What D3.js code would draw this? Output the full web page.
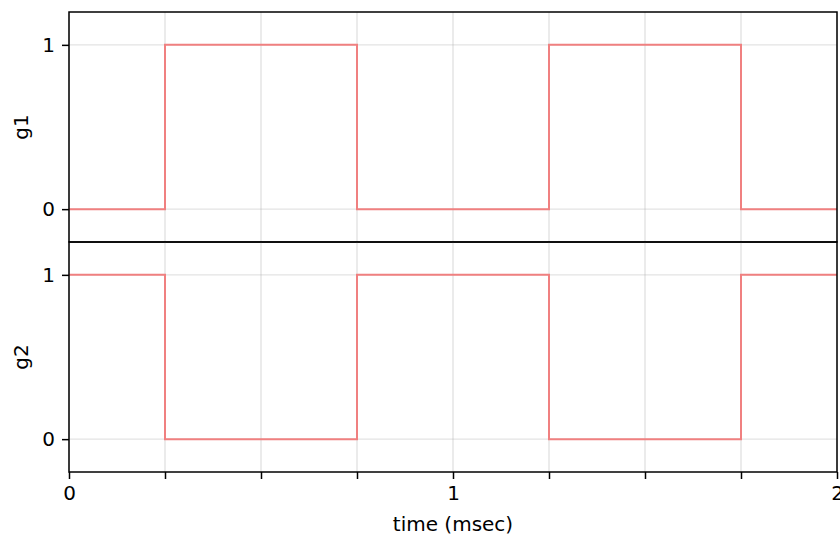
<!DOCTYPE html>
<html lang="en">
    <head>
        <meta charset="UTF-8" />
        <title>g1 / g2</title>
        <style>
            body { margin: 0; background: #fff; }
            text { font-family: 'DejaVu Sans', sans-serif; font-size: 20px; fill: #000; }
            .grid line { stroke: #b0b0b0; stroke-opacity: 0.35; stroke-width: 1.4px; }
            .spine { fill: none; stroke: #000; stroke-width: 1.5px; }
            .signal { fill: none; stroke: #f08080; stroke-width: 2px; }
        </style>
    </head>
    <body>
        <svg width="840" height="538"></svg>
        <script src="https://d3js.org/d3.v7.min.js"></script>
        <script>
            // switching times (msec) and the level held from each one
            const times = [0, 0.25, 0.75, 1.25, 1.75, 2];
            const g1 = [0, 1, 0, 1, 0, 0];
            const g2 = [1, 0, 1, 0, 1, 1];
            const xTicks = [0, 0.25, 0.5, 0.75, 1, 1.25, 1.5, 1.75, 2];
            const xLabels = [0, 1, 2];
            const yTicks = [0, 1];

            const svg = d3.select('svg');
            const plotLeft = 69, plotRight = 837, plotTop = 12, panelH = 230;

            const x = d3.scaleLinear().domain([0, 2]).range([plotLeft, plotRight]);

            const panels = [
                { name: 'g1', values: g1 },
                { name: 'g2', values: g2 }
            ];

            panels.forEach((p, i) => {
                const y0 = plotTop + i * panelH;
                const y = d3.scaleLinear().domain([-0.2, 1.2]).range([y0 + panelH, y0]);
                const g = svg.append('g');

                // grid
                const grid = g.append('g').attr('class', 'grid');
                grid.selectAll('.vx').data(xTicks).enter().append('line')
                    .attr('x1', (d) => x(d)).attr('x2', (d) => x(d))
                    .attr('y1', y0).attr('y2', y0 + panelH);
                grid.selectAll('.hy').data(yTicks).enter().append('line')
                    .attr('x1', plotLeft).attr('x2', plotRight)
                    .attr('y1', (d) => y(d)).attr('y2', (d) => y(d));

                // signal
                const pts = times.map((t, k) => [t, p.values[k]]);
                const line = d3.line()
                    .x((d) => x(d[0]))
                    .y((d) => y(d[1]))
                    .curve(d3.curveStepAfter);
                g.append('path').attr('class', 'signal').attr('d', line(pts));

                // y axis
                const yAxis = d3.axisLeft(y).tickValues(yTicks).tickFormat(d3.format('d')).tickSize(7).tickPadding(7);
                const ya = g.append('g').attr('transform', `translate(${plotLeft},0)`).call(yAxis);
                ya.select('.domain').remove();
                ya.selectAll('.tick line').attr('stroke', '#000').attr('stroke-width', 1.5);
                ya.selectAll('.tick text').style('font-size', '20px');

                g.append('rect').attr('class', 'spine')
                    .attr('x', plotLeft).attr('y', y0)
                    .attr('width', plotRight - plotLeft).attr('height', panelH);

                g.append('text')
                    .attr('transform', `translate(28,${y0 + panelH / 2}) rotate(-90)`)
                    .attr('text-anchor', 'middle')
                    .text(p.name);
            });

            // bottom x axis
            const xAxis = d3.axisBottom(x).tickValues(xTicks)
                .tickFormat((d) => (xLabels.includes(d) ? d3.format('d')(d) : ''))
                .tickSize(7).tickPadding(7);
            const xa = svg.append('g').attr('transform', `translate(0,${plotTop + 2 * panelH})`).call(xAxis);
            xa.select('.domain').remove();
            xa.selectAll('.tick line').attr('stroke', '#000').attr('stroke-width', 1.5);
            xa.selectAll('.tick text').style('font-size', '20px');

            svg.append('text')
                .attr('x', (plotLeft + plotRight) / 2)
                .attr('y', 531)
                .attr('text-anchor', 'middle')
                .text('time (msec)');
        </script>
    </body>
</html>
